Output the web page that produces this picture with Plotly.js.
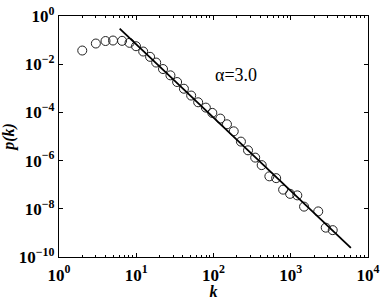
<!DOCTYPE html>
<html>
<head>
<meta charset="utf-8">
<script src="https://cdn.plot.ly/plotly-3.0.1.min.js"></script>
<style>html,body{margin:0;padding:0;background:#fff;}#chart{width:382px;height:300px;}</style>
</head>
<body>
<div id="chart"></div>
<script>
// Degree distribution data
const degreeK = [2, 3, 4, 5, 6.55, 8.18, 9.93, 12.3, 15.1, 18.1, 22.2, 27.7, 33.8, 41.4, 51.4, 63.3, 79.6, 96.5, 122.5, 149.4, 182.8, 226.5, 279.8, 346.6, 420.6, 528.6, 647.6, 796.7, 981, 1216, 1487, 2269, 2837, 3494];
const probPk = [0.0369, 0.0721, 0.0916, 0.096, 0.0933, 0.077, 0.0557, 0.0336, 0.0202, 0.0117, 6.3e-3, 3.45e-3, 1.82e-3, 9.6e-4, 5.0e-4, 2.63e-4, 1.58e-4, 9.55e-5, 5.54e-5, 3.21e-5, 1.64e-5, 6.14e-6, 2.67e-6, 1.33e-6, 6.49e-7, 2.22e-7, 1.87e-7, 6.23e-8, 4.17e-8, 3.61e-8, 1.23e-8, 7.8e-9, 1.65e-9, 1.30e-9];
// Power-law fit line endpoints
const fitK = [6.1, 6000];
const fitP = [0.30, 2.4e-10];
// Tick values and labels
const xTickVals = [1, 10, 100, 1000, 10000];
const xTickText = ['10<sup>0</sup>', '10<sup>1</sup>', '10<sup>2</sup>', '10<sup>3</sup>', '10<sup>4</sup>'];
const yTickVals = [1, 1e-2, 1e-4, 1e-6, 1e-8, 1e-10];
const yTickText = ['10<sup>0</sup>', '10<sup>\u22122</sup>', '10<sup>\u22124</sup>', '10<sup>\u22126</sup>', '10<sup>\u22128</sup>', '10<sup>\u221210</sup>'];
const xMinorVals = [];
for (let d = 1; d <= 1000; d *= 10) for (let m = 2; m <= 9; m++) xMinorVals.push(m * d);
const annText = '\u03b1=3.0';

const tickFont = {family: 'Liberation Serif', size: 17, weight: 700, color: '#000'};
const titleFont = {family: 'Liberation Serif', size: 16, weight: 700, style: 'italic', color: '#000'};

const traces = [
  {x: degreeK, y: probPk, type: 'scatter', mode: 'markers',
   marker: {symbol: 'circle-open', size: 9, color: '#222', line: {width: 1, color: '#222'}},
   hoverinfo: 'none'},
  {x: fitK, y: fitP, type: 'scatter', mode: 'lines',
   line: {color: '#000', width: 1.8}, hoverinfo: 'none'}
];

const layout = {
  width: 382, height: 300,
  margin: {l: 59, r: 14, t: 16, b: 43},
  paper_bgcolor: '#fff', plot_bgcolor: '#fff',
  showlegend: false,
  font: {family: 'Liberation Serif', color: '#000'},
  xaxis: {
    type: 'log', range: [0, 4],
    tickmode: 'array', tickvals: xTickVals, ticktext: xTickText,
    ticks: 'inside', ticklen: 4, tickwidth: 1, tickcolor: '#000',
    ticklabelstandoff: 2,
    minor: {tickmode: 'array', tickvals: xMinorVals, ticks: 'inside', ticklen: 2, tickwidth: 1, tickcolor: '#000', showgrid: false},
    showline: true, linecolor: '#000', linewidth: 1.2, mirror: 'ticks',
    showgrid: false, zeroline: false,
    tickfont: tickFont,
    title: {text: 'k', font: titleFont, standoff: 0}
  },
  yaxis: {
    type: 'log', range: [-10, 0],
    tickmode: 'array', tickvals: yTickVals, ticktext: yTickText,
    ticks: 'inside', ticklen: 4, tickwidth: 1, tickcolor: '#000',
    showline: true, linecolor: '#000', linewidth: 1.2, mirror: 'ticks',
    showgrid: false, zeroline: false,
    tickfont: tickFont,
    title: {text: 'p(k)', font: titleFont, standoff: 3}
  },
  annotations: [{
    x: 2.29, y: -2.45, xref: 'x', yref: 'y', text: annText, showarrow: false,
    font: {family: 'Liberation Serif', size: 18, weight: 400, color: '#000'}
  }]
};

Plotly.newPlot('chart', traces, layout, {displayModeBar: false, staticPlot: true});
</script>
</body>
</html>
